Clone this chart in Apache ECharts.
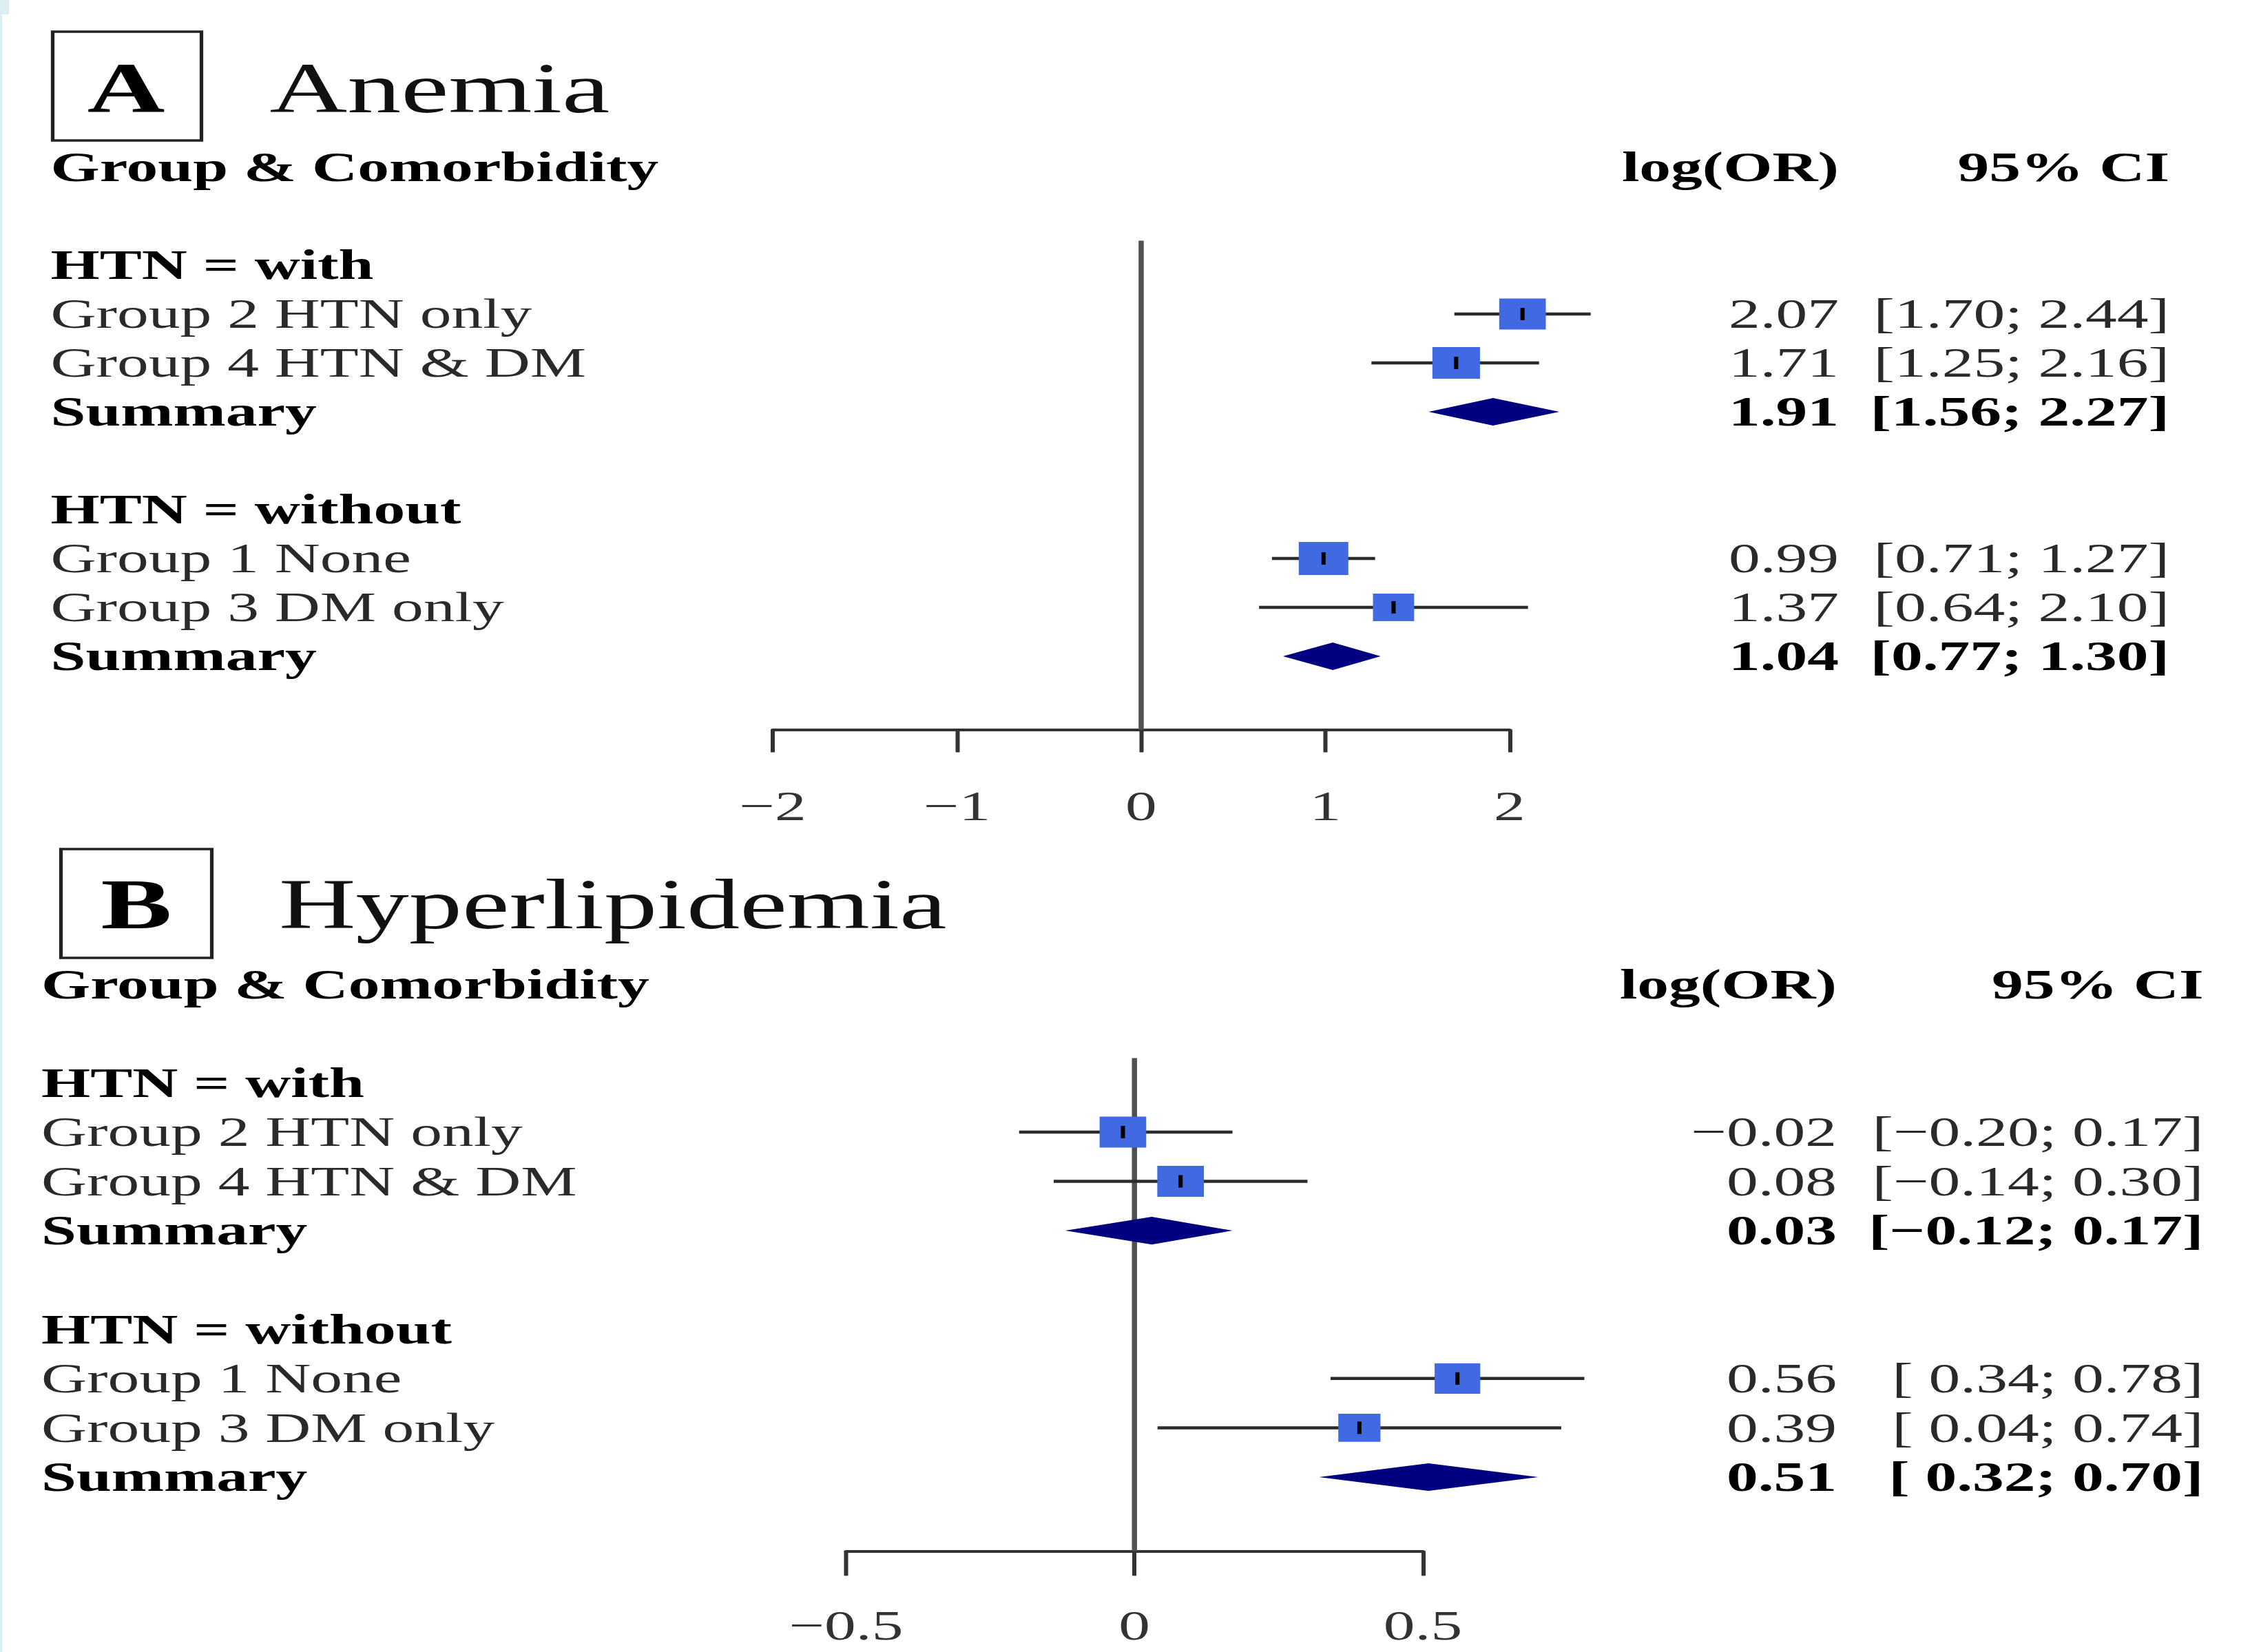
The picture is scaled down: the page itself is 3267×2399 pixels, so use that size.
<!DOCTYPE html>
<html><head><meta charset="utf-8">
<script src="https://cdn.jsdelivr.net/npm/echarts/dist/echarts.min.js"></script>
<style>
html,body{margin:0;padding:0;background:#fff;overflow:hidden;width:3267px;height:2399px}
#chart{width:2178px;height:2399px;transform:scaleX(1.5);transform-origin:0 0;}
</style>
</head><body><div id="chart"></div>
<script>
// ---------------- data ----------------
const groupLabels = ['Group 2 HTN only', 'Group 4 HTN & DM', 'Group 1 None', 'Group 3 DM only'];
const subgroupHeaders = ['HTN = with', 'HTN = without'];
const summaryLabel = 'Summary';
const columnHeaders = ['Group & Comorbidity', 'log(OR)', '95% CI'];

const anemiaEst    = [2.07, 1.71, 0.99, 1.37];
const anemiaLower  = [1.70, 1.25, 0.71, 0.64];
const anemiaUpper  = [2.44, 2.16, 1.27, 2.10];
const anemiaBoxWeight = [0.94, 0.96, 1.00, 0.83];
const anemiaSumEst   = [1.91, 1.04];
const anemiaSumLower = [1.56, 0.77];
const anemiaSumUpper = [2.27, 1.30];
const anemiaTicks = [-2, -1, 0, 1, 2];

const hyperEst    = [-0.02, 0.08, 0.56, 0.39];
const hyperLower  = [-0.20, -0.14, 0.34, 0.04];
const hyperUpper  = [0.17, 0.30, 0.78, 0.74];
const hyperBoxWeight = [0.94, 0.94, 0.92, 0.85];
const hyperSumEst   = [0.03, 0.51];
const hyperSumLower = [-0.12, 0.32];
const hyperSumUpper = [0.17, 0.70];
const hyperTicks = [-0.5, 0, 0.5];

// ---------------- layout / style ----------------
const FONT = '"Liberation Serif", "Times New Roman", serif';
const BODY = 61;
const Y_MIN = 1.5, Y_MAX = 11.5;
const groupRows = [3, 4, 8, 9];
const summaryRows = [5, 10];
const subgroupRows = [2, 7];
const headerRow = 0;

const panels = [
  { letter: 'A', title: 'Anemia', est: anemiaEst, lo: anemiaLower, hi: anemiaUpper, w: anemiaBoxWeight,
    sEst: anemiaSumEst, sLo: anemiaSumLower, sHi: anemiaSumUpper, ticks: anemiaTicks,
    L: { left: 748, right: 1461.3, top: 349.5, bottom: 1059.5, labelX: 49, valueRight: 1780, ciRight: 2100,
         box: [51, 46, 144, 158], letterX: 122, letterY: 128, titleX: 261, titleFont: 104, tickLen: 33, labelMargin: 81 } },
  { letter: 'B', title: 'Hyperlipidemia', est: hyperEst, lo: hyperLower, hi: hyperUpper, w: hyperBoxWeight,
    sEst: hyperSumEst, sLo: hyperSumLower, sHi: hyperSumUpper, ticks: hyperTicks,
    L: { left: 819, right: 1377.3, top: 1536.6, bottom: 2252.3, labelX: 40, valueRight: 1778, ciRight: 2133,
         box: [59, 1233, 146, 158], letterX: 132, letterY: 1313, titleX: 270, titleFont: 103, tickLen: 36, labelMargin: 78 } }
];

function num(v) { return (v < 0 ? '\u2212' : '') + Math.abs(v).toFixed(2); }
function ci(lo, hi, pad) {
  const l = lo < 0 ? '\u2212' + Math.abs(lo).toFixed(2) : (pad ? ' ' : '') + lo.toFixed(2);
  return '[' + l + '; ' + num(hi) + ']';
}

const grid = [], xAxis = [], yAxis = [], series = [];
panels.forEach((p, i) => {
  const L = p.L;
  grid.push({ left: L.left, top: L.top, width: L.right - L.left, height: L.bottom - L.top, containLabel: false });
  xAxis.push({
    gridIndex: i, type: 'value', min: p.ticks[0], max: p.ticks[p.ticks.length - 1],
    interval: p.ticks[1] - p.ticks[0], position: 'bottom',
    axisLine: { show: true, onZero: false, lineStyle: { color: '#333', width: 4 } },
    axisTick: { show: true, inside: false, length: L.tickLen, lineStyle: { color: '#333', width: 4 } },
    axisLabel: { show: true, margin: L.labelMargin, fontFamily: FONT, fontSize: BODY, color: '#333',
      formatter: v => (v < 0 ? '\u2212' + Math.abs(v) : String(v)) },
    splitLine: { show: false }
  });
  yAxis.push({ gridIndex: i, type: 'value', min: Y_MIN, max: Y_MAX, inverse: true, show: false, splitLine: { show: false } });

  series.push({ type: 'line', xAxisIndex: i, yAxisIndex: i, data: [[0, Y_MIN], [0, Y_MAX]], symbol: 'none',
    lineStyle: { color: '#505050', width: 5 }, silent: true, z: 1, animation: false });

  series.push({ type: 'custom', xAxisIndex: i, yAxisIndex: i, z: 2, silent: true, clip: false,
    data: p.est.map((e, k) => [p.lo[k], p.hi[k], groupRows[k]]),
    encode: { x: [0, 1], y: 2 },
    renderItem: (params, api) => {
      const a = api.coord([api.value(0), api.value(2)]);
      const b = api.coord([api.value(1), api.value(2)]);
      return { type: 'line', shape: { x1: a[0], y1: a[1], x2: b[0], y2: b[1] }, style: { stroke: '#2b2b2b', lineWidth: 4.5 } };
    } });

  series.push({ type: 'scatter', xAxisIndex: i, yAxisIndex: i, z: 3, silent: true, symbol: 'rect', clip: false,
    itemStyle: { color: '#4169E1', opacity: 1 },
    data: p.est.map((e, k) => ({ value: [e, groupRows[k]], symbolSize: 48 * p.w[k] })) });

  series.push({ type: 'scatter', xAxisIndex: i, yAxisIndex: i, z: 4, silent: true, symbol: 'rect', clip: false,
    symbolSize: [4, 18], itemStyle: { color: '#000', opacity: 1 },
    data: p.est.map((e, k) => [e, groupRows[k]]) });

  series.push({ type: 'custom', xAxisIndex: i, yAxisIndex: i, z: 5, silent: true, clip: false,
    data: p.sEst.map((e, k) => [p.sLo[k], e, p.sHi[k], summaryRows[k]]),
    encode: { x: [0, 1, 2], y: 3 },
    renderItem: (params, api) => {
      const r = api.value(3);
      const a = api.coord([api.value(0), r]);
      const c = api.coord([api.value(1), r]);
      const b = api.coord([api.value(2), r]);
      const hh = api.size([0, 0.28])[1];
      return { type: 'polygon', shape: { points: [[a[0], a[1]], [c[0], c[1] - hh], [b[0], b[1]], [c[0], c[1] + hh]] },
        style: { fill: '#000080' } };
    } });
});

const chart = echarts.init(document.getElementById('chart'), null, { renderer: 'svg' });
chart.setOption({ animation: false, backgroundColor: '#fff', grid, xAxis, yAxis, series });

// ---------------- table text ----------------
function txt(x, y, text, opts) {
  const bold = opts.bold, size = opts.size || BODY, align = opts.align || 'left';
  return { type: 'text', x: x, y: y, silent: true, z: 10,
    style: { text: text, font: (bold ? 'bold ' : '') + size + 'px ' + FONT,
      fill: opts.color || (bold ? '#000' : '#2a2a2a'),
      align: align, textAlign: align, verticalAlign: 'middle', textVerticalAlign: 'middle' } };
}

const graphic = [
  { type: 'rect', shape: { x: 0, y: 0, width: 2, height: 2399 }, style: { fill: '#dbeff3' }, silent: true },
  { type: 'rect', shape: { x: 0, y: 0, width: 8.7, height: 21 }, style: { fill: '#dbeff3' }, silent: true }
];
panels.forEach((p, i) => {
  const L = p.L;
  const yOf = r => chart.convertToPixel({ gridIndex: i }, [0, r])[1];
  const pad = p.lo.concat(p.sLo).some(v => v < 0);
  graphic.push({ type: 'rect', shape: { x: L.box[0], y: L.box[1], width: L.box[2], height: L.box[3] },
    style: { fill: 'none', stroke: '#222', lineWidth: 3.5 }, silent: true });
  graphic.push(txt(L.letterX, L.letterY, p.letter, { bold: true, size: L.titleFont, align: 'center', color: '#000' }));
  graphic.push(txt(L.titleX, L.letterY, p.title, { size: L.titleFont, color: '#111' }));

  graphic.push(txt(L.labelX, yOf(headerRow), columnHeaders[0], { bold: true }));
  graphic.push(txt(L.valueRight, yOf(headerRow), columnHeaders[1], { bold: true, align: 'right' }));
  graphic.push(txt(L.ciRight, yOf(headerRow), columnHeaders[2], { bold: true, align: 'right' }));

  subgroupRows.forEach((r, k) => graphic.push(txt(L.labelX, yOf(r), subgroupHeaders[k], { bold: true })));
  groupRows.forEach((r, k) => {
    graphic.push(txt(L.labelX, yOf(r), groupLabels[k], {}));
    graphic.push(txt(L.valueRight, yOf(r), num(p.est[k]), { align: 'right' }));
    graphic.push(txt(L.ciRight, yOf(r), ci(p.lo[k], p.hi[k], pad), { align: 'right' }));
  });
  summaryRows.forEach((r, k) => {
    graphic.push(txt(L.labelX, yOf(r), summaryLabel, { bold: true }));
    graphic.push(txt(L.valueRight, yOf(r), num(p.sEst[k]), { bold: true, align: 'right' }));
    graphic.push(txt(L.ciRight, yOf(r), ci(p.sLo[k], p.sHi[k], pad), { bold: true, align: 'right' }));
  });
});
chart.setOption({ graphic: graphic });
</script></body></html>
